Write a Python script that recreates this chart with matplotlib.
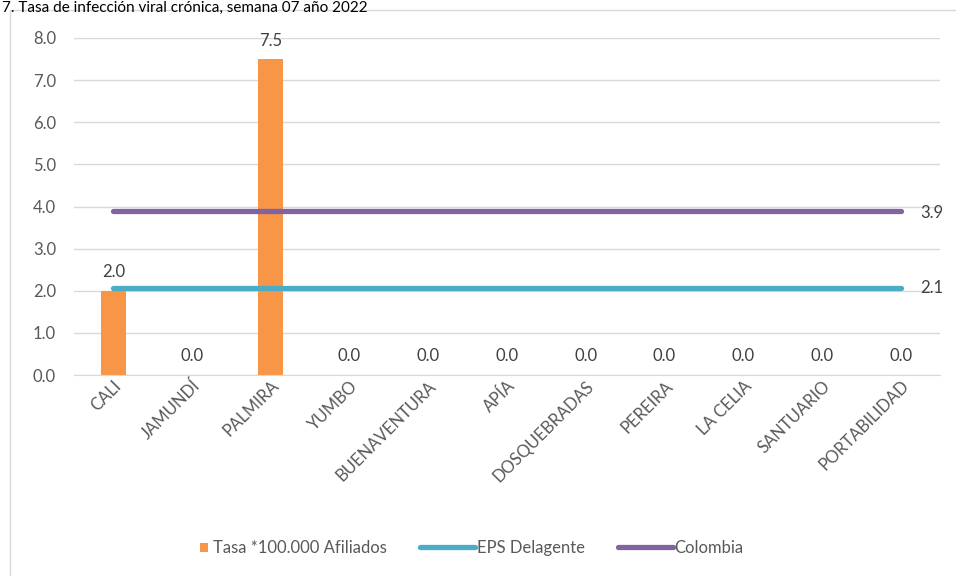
import matplotlib
matplotlib.use("Agg")
import matplotlib.pyplot as plt
from matplotlib.patches import Rectangle
from matplotlib.legend_handler import HandlerPatch
import numpy as np

municipios = ["CALI", "JAMUNDÍ", "PALMIRA", "YUMBO", "BUENAVENTURA", "APÍA",
              "DOSQUEBRADAS", "PEREIRA", "LA CELIA", "SANTUARIO", "PORTABILIDAD"]
tasa = [2.0, 0.0, 7.5, 0.0, 0.0, 0.0, 0.0, 0.0, 0.0, 0.0, 0.0]
eps_delagente = [2.06] * len(municipios)
colombia = [3.9] * len(municipios)

naranja = "#F79646"
azul = "#4BACC6"
morado = "#8064A2"
gris = "#595959"

plt.rcParams['font.family'] = ['Lato', 'DejaVu Sans']

fig = plt.figure(figsize=(9.56, 5.76), dpi=100)
# marco del grafico
fig.patches.append(Rectangle((10/956, -0.01), 1.0, 1 - 10/576 + 0.01, transform=fig.transFigure,
                             fill=False, edgecolor="#D9D9D9", linewidth=1))
fig.text(0.002, 1 - 1/576, "7. Tasa de infección viral crónica, semana 07 año 2022",
         fontsize=11, color="black", ha="left", va="top")

ax = fig.add_axes([74/956, 1 - 375/576, (940-74)/956, (375-38)/576])
x = np.arange(len(municipios))

barras = ax.bar(x, tasa, width=0.32, color=naranja, label="Tasa *100.000 Afiliados", zorder=2)
l1, = ax.plot(x, eps_delagente, color=azul, lw=3.8, solid_capstyle="round", label="EPS Delagente", zorder=3)
l2, = ax.plot(x, colombia, color=morado, lw=3.8, solid_capstyle="round", label="Colombia", zorder=3)

for xi, v in zip(x, tasa):
    ax.text(xi, v + 0.25, f"{v:.1f}", ha="center", va="bottom", fontsize=12, color="#404040")
ax.text(x[-1] + 0.25, eps_delagente[-1], f"{eps_delagente[-1]:.1f}", ha="left", va="center",
        fontsize=12, color="#404040")
ax.text(x[-1] + 0.25, colombia[-1] - 0.05, f"{colombia[-1]:.1f}", ha="left", va="center",
        fontsize=12, color="#404040")

ax.set_xlim(-0.5, len(municipios) - 0.5)
ax.set_ylim(0, 8)
ax.set_yticks(np.arange(0, 8.1, 1.0))
ax.set_yticklabels([f"{t:.1f}" for t in np.arange(0, 8.1, 1.0)])
ax.yaxis.grid(True, color="#D9D9D9", lw=1, zorder=0)
ax.set_axisbelow(True)
for s in ["top", "right", "left"]:
    ax.spines[s].set_visible(False)
ax.spines["bottom"].set_color("#D9D9D9")
ax.tick_params(axis="both", length=0, labelsize=12, colors=gris)
ax.tick_params(axis="y", pad=13)
ax.set_xticks(x)
ax.set_xticklabels(municipios, rotation=45, ha="right", rotation_mode="anchor")
ax.tick_params(axis="x", pad=2)


def cuadrito(legend, orig_handle, xdescent, ydescent, width, height, fontsize):
    lado = height * 0.75
    return Rectangle((width - lado - 2, (height - lado) / 2), lado, lado)


barra0 = barras.patches[0]
fig.legend([barra0, l1, l2], ["Tasa *100.000 Afiliados", "EPS Delagente", "Colombia"],
           loc="center", bbox_to_anchor=(450/956, 1 - 548/576), ncol=3, frameon=False,
           fontsize=12, labelcolor=gris, handlelength=3.3, handletextpad=0.1, columnspacing=2.0,
           handler_map={barra0: HandlerPatch(patch_func=cuadrito)})

fig.savefig("out.png", dpi=100)
